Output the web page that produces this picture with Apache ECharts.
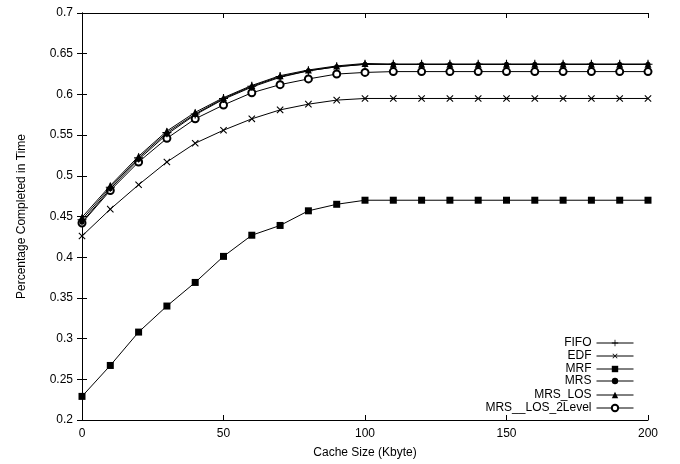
<!DOCTYPE html>
<html>
<head>
<meta charset="utf-8">
<script src="https://cdn.jsdelivr.net/npm/echarts@6/dist/echarts.min.js"></script>
<style>html,body{margin:0;padding:0;background:#fff}#c{width:680px;height:464px}</style>
</head>
<body>
<div id="c"></div>
<script>
const cacheSizes = [0,10,20,30,40,50,60,70,80,90,100,110,120,130,140,150,160,170,180,190,200];
const fifo   = [0.446,0.486,0.522,0.553,0.576,0.595,0.610,0.622,0.629,0.634,0.637,0.637,0.637,0.637,0.637,0.637,0.637,0.637,0.637,0.637,0.637];
const edf    = [0.426,0.459,0.489,0.517,0.540,0.556,0.570,0.581,0.588,0.593,0.595,0.595,0.595,0.595,0.595,0.595,0.595,0.595,0.595,0.595,0.595];
const mrf    = [0.229,0.267,0.308,0.340,0.369,0.401,0.427,0.439,0.457,0.465,0.470,0.470,0.470,0.470,0.470,0.470,0.470,0.470,0.470,0.470,0.470];
const mrs    = [0.443,0.484,0.520,0.551,0.575,0.594,0.609,0.621,0.629,0.634,0.637,0.637,0.637,0.637,0.637,0.637,0.637,0.637,0.637,0.637,0.637];
const mrsLos = [0.449,0.488,0.524,0.555,0.578,0.596,0.611,0.623,0.630,0.635,0.638,0.637,0.637,0.637,0.637,0.637,0.637,0.637,0.637,0.637,0.637];
const mrsLos2 = [0.442,0.482,0.517,0.546,0.570,0.587,0.602,0.612,0.619,0.625,0.627,0.628,0.628,0.628,0.628,0.628,0.628,0.628,0.628,0.628,0.628];
const seriesNames = ['FIFO','EDF','MRF','MRS','MRS_LOS','MRS__LOS_2Level'];
const xTitle = 'Cache Size (Kbyte)';
const yTitle = 'Percentage Completed in Time';

const FONT = 'Liberation Sans';
const crossPath = 'path://M4.4,0h1.2v4.4h4.4v1.2h-4.4v4.4h-1.2v-4.4h-4.4v-1.2h4.4z';
const marks = [
  {symbol: crossPath, size: 9, rotate: 0},
  {symbol: crossPath, size: 9, rotate: 45},
  {symbol: 'rect', size: 7, rotate: 0},
  {symbol: 'circle', size: 5, rotate: 0},
  {symbol: 'triangle', size: 7, rotate: 0},
  {symbol: 'emptyCircle', size: 7, rotate: 0}
];
const allData = [fifo, edf, mrf, mrs, mrsLos, mrsLos2];

const series = allData.map((vals, i) => ({
  name: seriesNames[i],
  type: 'line',
  data: cacheSizes.map((x, j) => [x, vals[j]]),
  symbol: marks[i].symbol,
  symbolSize: marks[i].size,
  symbolRotate: marks[i].rotate,
  showAllSymbol: true,
  lineStyle: {color: '#000', width: 1},
  itemStyle: {color: '#000', borderColor: '#000', borderWidth: i === 5 ? 0.8 : 0},
  emphasis: {disabled: true},
  animation: false,
  z: 10 - i
}));

const legendCenters = [344, 357, 370, 382, 396, 409];
const legends = seriesNames.map((n, i) => ({
  data: [n],
  right: 46,
  top: legendCenters[i] - 7,
  padding: 0,
  align: 'right',
  itemWidth: 37,
  itemHeight: 8,
  selectedMode: false,
  lineStyle: {width: 1},
  textStyle: {fontFamily: FONT, fontSize: 12, color: '#000'}
}));

const axisCommon = {
  axisLine: {show: true, lineStyle: {color: '#000', width: 1}},
  axisTick: {show: true, inside: true, length: 5, lineStyle: {color: '#000'}},
  splitLine: {show: false},
  axisLabel: {fontFamily: FONT, fontSize: 12, color: '#000'}
};

const chart = echarts.init(document.getElementById('c'), null, {renderer: 'canvas'});
chart.setOption({
  animation: false,
  backgroundColor: '#fff',
  grid: {left: 82, right: 32, top: 13, bottom: 43, containLabel: false},
  legend: legends,
  xAxis: [
    Object.assign({}, axisCommon, {
      type: 'value', min: 0, max: 200, interval: 50, position: 'bottom',
      name: xTitle, nameLocation: 'middle', nameGap: 27,
      nameTextStyle: {fontFamily: FONT, fontSize: 12, color: '#000'},
      axisLabel: {fontFamily: FONT, fontSize: 12, color: '#000', margin: 8}
    }),
    Object.assign({}, axisCommon, {
      type: 'value', min: 0, max: 200, interval: 50, position: 'top',
      axisLabel: {show: false}
    })
  ],
  yAxis: [
    Object.assign({}, axisCommon, {
      type: 'value', min: 0.2, max: 0.7, interval: 0.05, position: 'left',
      name: yTitle, nameLocation: 'middle', nameGap: 54,
      nameTextStyle: {fontFamily: FONT, fontSize: 12, color: '#000'},
      axisLabel: {fontFamily: FONT, fontSize: 12, color: '#000', margin: 9,
        formatter: v => String(+v.toFixed(2))}
    }),
    Object.assign({}, axisCommon, {
      type: 'value', min: 0.2, max: 0.7, interval: 0.05, position: 'right',
      axisLabel: {show: false}
    })
  ],
  series: series
});
</script>
</body>
</html>
